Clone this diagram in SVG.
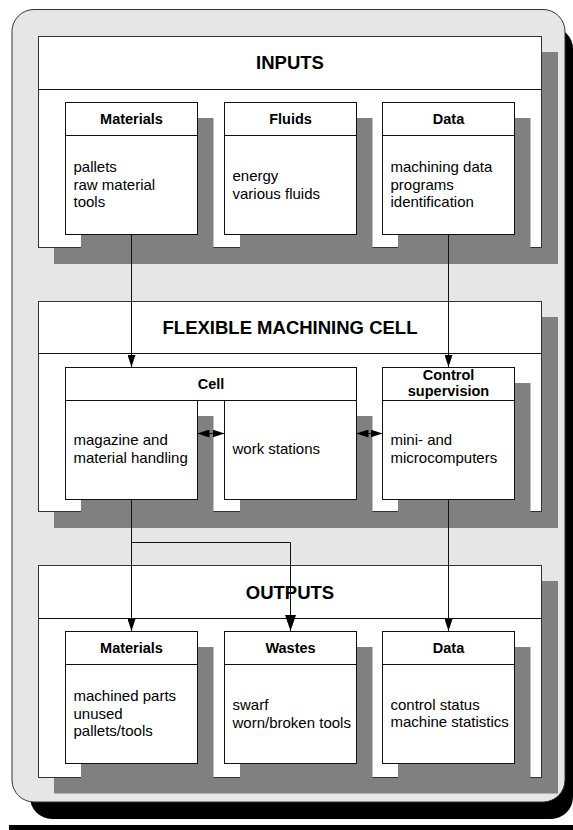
<svg xmlns="http://www.w3.org/2000/svg" width="573" height="830" viewBox="0 0 573 830">
<style>
.box{fill:#fff;stroke:#111;stroke-width:1}
.sec{fill:#fff;stroke:#333;stroke-width:1}
.sh{fill:#808080}
.ln{stroke:#111;stroke-width:1;fill:none}
text{font-family:"Liberation Sans",Arial,sans-serif;fill:#000}
.t1{font-size:18.5px;font-weight:bold;text-anchor:middle}
.t2{font-size:14.5px;font-weight:bold;text-anchor:middle}
.t3{font-size:15px}
</style>
<defs>
<marker id="ah" markerUnits="userSpaceOnUse" markerWidth="12" markerHeight="8" refX="12" refY="4" orient="auto-start-reverse"><path d="M0,0 L12,4 L0,8 z" fill="#000"/></marker>
<marker id="ahL" markerUnits="userSpaceOnUse" markerWidth="16" markerHeight="11" refX="16" refY="5.5" orient="auto"><path d="M0,0 L16,5.5 L0,11 z" fill="#000"/></marker>
</defs>
<g id="frame">
<rect x="30" y="27" width="543" height="792" rx="22" fill="#000"/>
<rect x="12" y="9.5" width="553" height="792.5" rx="22" fill="#e6e6e6" stroke="#333" stroke-width="1"/>
<rect x="9" y="825" width="564" height="5" fill="#000"/>
</g>
<g id="inputs">
<rect class="sh" x="54" y="52" width="504" height="212"/>
<rect class="sec" x="38.5" y="36.5" width="503" height="211"/>
<line class="ln" x1="38.5" y1="89.5" x2="541.5" y2="89.5"/>
<text class="t1" x="290" y="69">INPUTS</text>
</g>
<g id="in-materials">
<rect class="sh" x="81" y="118" width="132.5" height="132.5"/>
<rect class="box" x="65.5" y="102.5" width="132" height="132"/>
<line class="ln" x1="65.5" y1="135.5" x2="197.5" y2="135.5"/>
<text class="t2" x="131.5" y="123.5">Materials</text>
<text class="t3" x="73.5" y="172">pallets</text>
<text class="t3" x="73.5" y="189.5">raw material</text>
<text class="t3" x="73.5" y="207">tools</text>
</g>
<g id="in-fluids">
<rect class="sh" x="240" y="118" width="132.5" height="132.5"/>
<rect class="box" x="224.5" y="102.5" width="132" height="132"/>
<line class="ln" x1="224.5" y1="135.5" x2="356.5" y2="135.5"/>
<text class="t2" x="290.5" y="123.5">Fluids</text>
<text class="t3" x="232.5" y="181">energy</text>
<text class="t3" x="232.5" y="198.5">various fluids</text>
</g>
<g id="in-data">
<rect class="sh" x="398" y="118" width="132.5" height="132.5"/>
<rect class="box" x="382.5" y="102.5" width="132" height="132"/>
<line class="ln" x1="382.5" y1="135.5" x2="514.5" y2="135.5"/>
<text class="t2" x="448.5" y="123.5">Data</text>
<text class="t3" x="390.5" y="172">machining data</text>
<text class="t3" x="390.5" y="189.5">programs</text>
<text class="t3" x="390.5" y="207">identification</text>
</g>
<g id="fmc">
<rect class="sh" x="54" y="317" width="504" height="211"/>
<rect class="sec" x="38.5" y="301.5" width="503" height="210"/>
<line class="ln" x1="38.5" y1="353.5" x2="541.5" y2="353.5"/>
<text class="t1" x="290" y="333.5">FLEXIBLE MACHINING CELL</text>
</g>
<g id="cell">
<rect class="sh" x="81" y="416" width="132.5" height="99.5"/>
<rect class="sh" x="240" y="416" width="132.5" height="99.5"/>
<rect class="box" x="65.5" y="367.5" width="291" height="33"/>
<text class="t2" x="211" y="388.5">Cell</text>
<rect class="box" x="65.5" y="400.5" width="132" height="99"/>
<text class="t3" x="73.5" y="445">magazine and</text>
<text class="t3" x="73.5" y="462.5">material handling</text>
<rect class="box" x="224.5" y="400.5" width="132" height="99"/>
<text class="t3" x="232.5" y="454">work stations</text>
</g>
<g id="control">
<rect class="sh" x="398" y="383" width="132.5" height="132.5"/>
<rect class="box" x="382.5" y="367.5" width="132" height="132"/>
<line class="ln" x1="382.5" y1="400.5" x2="514.5" y2="400.5"/>
<text class="t2" x="448.5" y="380">Control</text>
<text class="t2" x="448.5" y="396">supervision</text>
<text class="t3" x="390.5" y="445">mini- and</text>
<text class="t3" x="390.5" y="462.5">microcomputers</text>
</g>
<g id="outputs">
<rect class="sh" x="54" y="581" width="504" height="212.5"/>
<rect class="sec" x="38.5" y="565.5" width="503" height="212"/>
<line class="ln" x1="38.5" y1="618.5" x2="541.5" y2="618.5"/>
<text class="t1" x="290" y="598.5">OUTPUTS</text>
</g>
<g id="out-materials">
<rect class="sh" x="81" y="647" width="132.5" height="132.5"/>
<rect class="box" x="65.5" y="631.5" width="132" height="132"/>
<line class="ln" x1="65.5" y1="664.5" x2="197.5" y2="664.5"/>
<text class="t2" x="131.5" y="653">Materials</text>
<text class="t3" x="73.5" y="701">machined parts</text>
<text class="t3" x="73.5" y="718.5">unused</text>
<text class="t3" x="73.5" y="736">pallets/tools</text>
</g>
<g id="out-wastes">
<rect class="sh" x="240" y="647" width="132.5" height="132.5"/>
<rect class="box" x="224.5" y="631.5" width="132" height="132"/>
<line class="ln" x1="224.5" y1="664.5" x2="356.5" y2="664.5"/>
<text class="t2" x="290.5" y="653">Wastes</text>
<text class="t3" x="232.5" y="710">swarf</text>
<text class="t3" x="232.5" y="727.5">worn/broken tools</text>
</g>
<g id="out-data">
<rect class="sh" x="398" y="647" width="132.5" height="132.5"/>
<rect class="box" x="382.5" y="631.5" width="132" height="132"/>
<line class="ln" x1="382.5" y1="664.5" x2="514.5" y2="664.5"/>
<text class="t2" x="448.5" y="653">Data</text>
<text class="t3" x="390.5" y="709.5">control status</text>
<text class="t3" x="390.5" y="727">machine statistics</text>
</g>
<g id="connectors">
<line class="ln" x1="131.5" y1="234.5" x2="131.5" y2="367" marker-end="url(#ah)"/>
<line class="ln" x1="448.5" y1="234.5" x2="448.5" y2="367" marker-end="url(#ah)"/>
<line class="ln" x1="197.5" y1="433.5" x2="224.5" y2="433.5" marker-start="url(#ah)" marker-end="url(#ah)"/>
<line class="ln" x1="356.5" y1="433.5" x2="382.5" y2="433.5" marker-start="url(#ah)" marker-end="url(#ah)"/>
<line class="ln" x1="131.5" y1="499.5" x2="131.5" y2="631" marker-end="url(#ah)"/>
<path class="ln" d="M131.5,542.5 H290.5 V631" marker-end="url(#ahL)"/>
<line class="ln" x1="448.5" y1="499.5" x2="448.5" y2="631" marker-end="url(#ah)"/>
</g>
</svg>
